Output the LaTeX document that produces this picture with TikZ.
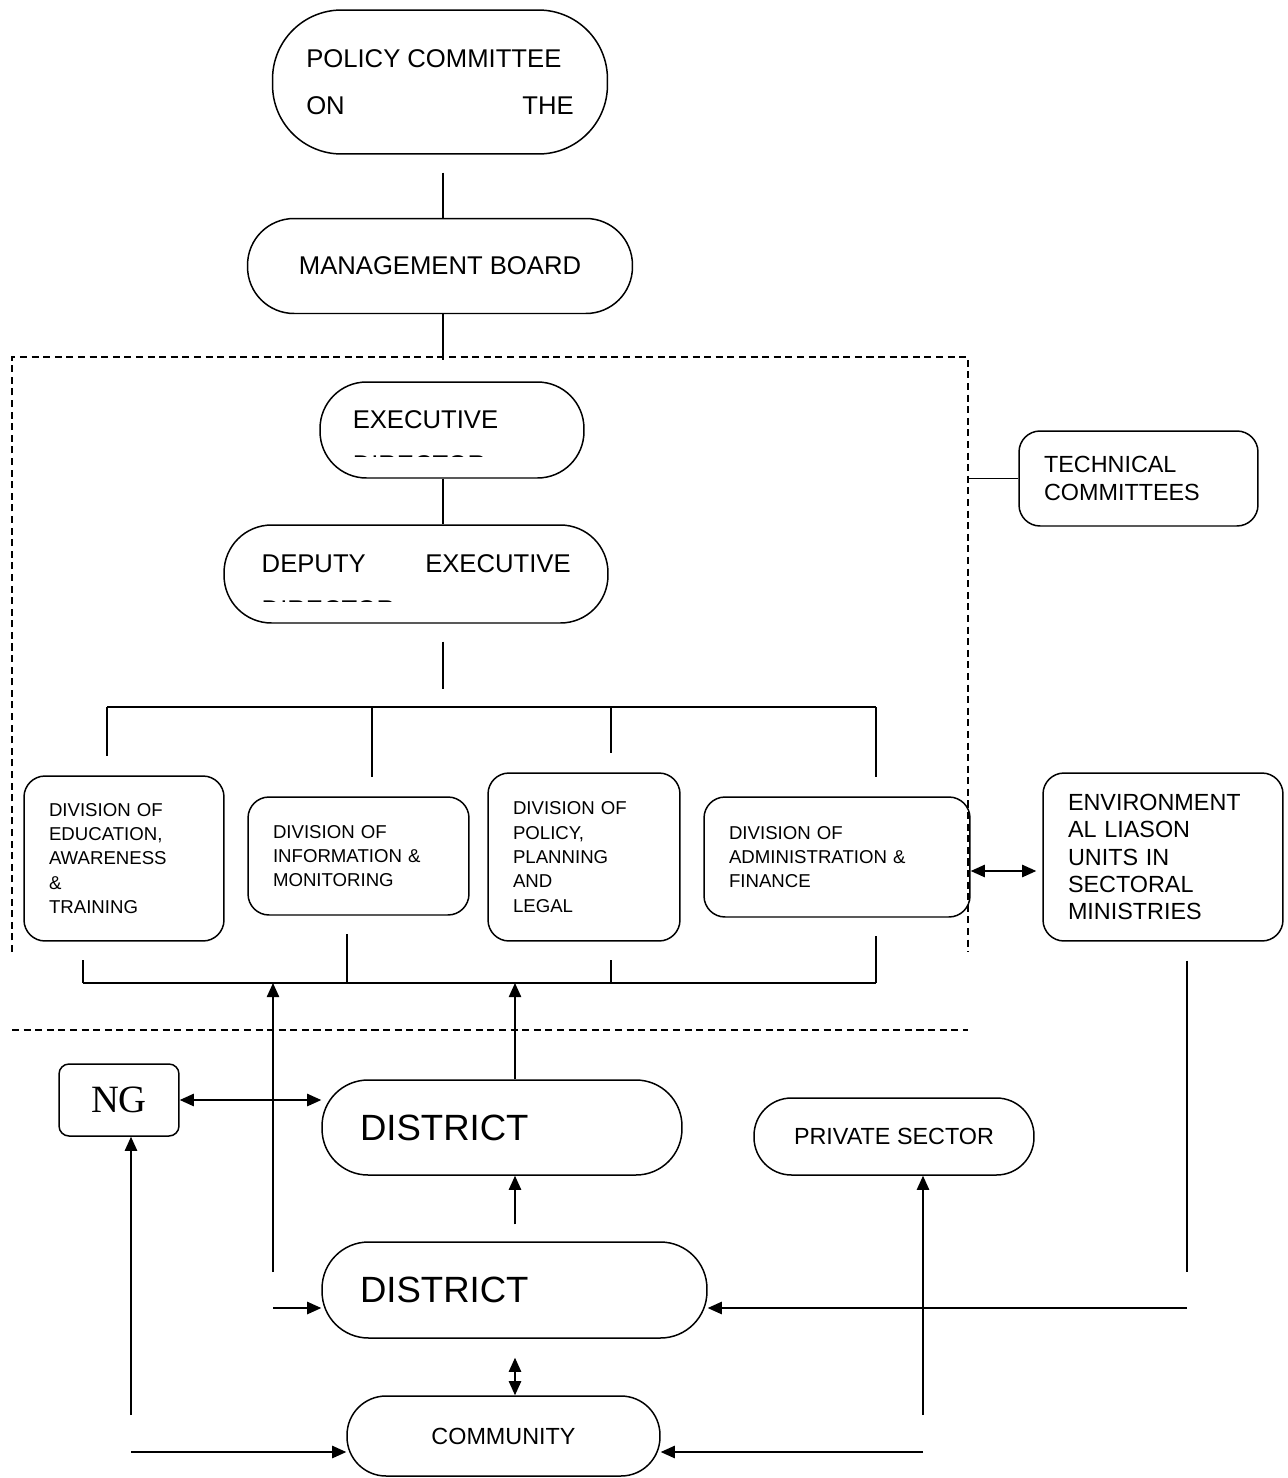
\documentclass[tikz,border=0pt]{standalone}
\usepackage{fontspec}
\setmainfont{Liberation Sans}
\newfontfamily\ngfont{Liberation Serif}
\usetikzlibrary{arrows.meta}

\begin{document}
\begin{tikzpicture}[
  x=0.02cm, y=-0.02cm,
  line width=0.85pt,
  oval/.style={draw, rounded corners=#1, inner sep=0pt},
  oval/.default=0.93cm,
  unitbox/.style={draw, rounded corners=0.42cm, align=left, inner xsep=0.5cm,
                  inner ysep=0pt, text width=#1},
  bigtxt/.style={font=\fontsize{14.6}{26.6}\selectfont},
  smalltxt/.style={font=\fontsize{10.6}{13.9}\selectfont},
  midtxt/.style={font=\fontsize{13.3}{15.6}\selectfont},
  disttxt/.style={font=\fontsize{20.8}{24}\selectfont},
  arr/.style={-{Triangle[length=8pt,width=7pt]}},
  darr/.style={{Triangle[length=8pt,width=7pt]}-{Triangle[length=8pt,width=7pt]}},
  zone/.style={line width=0.6pt, dash pattern=on 4pt off 2.6pt}
]
\useasboundingbox (0,0) rectangle (1288,1478);
\coordinate (spine) at (443,0);
\coordinate (zoneR) at (968,357);

\node[oval=1.38cm, bigtxt, align=left, minimum width=6.7cm, minimum height=2.88cm] (policy) at (440,82)
  {POLICY COMMITTEE\\\makebox[5.35cm]{ON\hfill THE}};
\node[oval, bigtxt, minimum width=7.7cm, minimum height=1.9cm] (mgmt) at (440,266) {MANAGEMENT BOARD};

\node[oval, minimum width=5.28cm, minimum height=1.92cm] (exec) at (452,430) {};
\node[bigtxt, anchor=base west, inner sep=0pt] (execT) at (352,428) {EXECUTIVE};
\begin{scope}
  \clip (340,454.2) rectangle (560,456.6);
  \node[bigtxt, anchor=base west, inner sep=0pt] (execCut) at (352,473) {DIRECTOR};
\end{scope}

\node[oval=0.95cm, minimum width=7.68cm, minimum height=1.96cm] (deputy) at (416,574) {};
\node[bigtxt, anchor=base west, inner sep=0pt] (deputyT) at (261,572) {\makebox[6.18cm]{DEPUTY\hfill EXECUTIVE}};
\begin{scope}
  \clip (250,599.2) rectangle (450,601.6);
  \node[bigtxt, anchor=base west, inner sep=0pt] (deputyCut) at (261,618) {DIRECTOR};
\end{scope}

\node[unitbox=3.0cm, smalltxt, minimum height=3.3cm] (div1) at (124,858.5)
  {DIVISION OF\\EDUCATION,\\AWARENESS\\\&\\TRAINING};
\node[unitbox=3.42cm, smalltxt, minimum height=2.36cm] (div2) at (358.5,856)
  {DIVISION OF\\INFORMATION \&\\MONITORING};
\node[unitbox=2.84cm, smalltxt, minimum height=3.36cm] (div3) at (584,857)
  {DIVISION OF\\POLICY,\\PLANNING\\AND\\LEGAL};
\node[unitbox=4.32cm, smalltxt, minimum height=2.4cm] (div4) at (837,857)
  {DIVISION OF\\ADMINISTRATION \&\\FINANCE};
\node[unitbox=3.78cm, midtxt, minimum height=1.9cm] (tech) at (1138.5,478.5)
  {TECHNICAL\\COMMITTEES};
\node[unitbox=3.8cm, midtxt, minimum height=3.36cm] (env) at (1163,857)
  {ENVIRONMENT\\AL LIASON\\UNITS IN\\SECTORAL\\MINISTRIES};

\node[draw, rounded corners=0.2cm, minimum width=2.4cm, minimum height=1.44cm,
      font=\ngfont\fontsize{22}{26}\selectfont] (ng) at (119,1100) {NG};
\node[oval=0.92cm, disttxt, align=left, inner xsep=0.76cm, text width=5.68cm, minimum height=1.9cm] (dist1) at (502,1127.5) {DISTRICT};
\node[oval, disttxt, align=left, inner xsep=0.76cm, text width=6.18cm, minimum height=1.92cm] (dist2) at (514.5,1290) {DISTRICT};
\node[oval=0.75cm, midtxt, minimum width=5.6cm, minimum height=1.54cm] (priv) at (894,1136.5) {PRIVATE SECTOR};
\node[oval=0.78cm, midtxt, minimum width=6.26cm, minimum height=1.6cm] (comm) at (503.5,1436) {COMMUNITY};

\draw[zone] (12,952) -- (12,357) -- (968,357) -- (968,952);
\draw[zone] (12,1030) -- (968,1030);

\draw ([yshift=-0.36cm]policy.south -| spine) -- (mgmt.north -| spine);
\draw (mgmt.south -| spine) -- ([yshift=-0.92cm]mgmt.south -| spine);
\draw (exec.south -| spine) -- (deputy.north -| spine);
\draw ([yshift=-0.36cm]deputy.south -| spine) -- ([yshift=-1.3cm]deputy.south -| spine);
\draw (tech.west) -- (tech.west -| zoneR);

\coordinate (t1) at (107,707);
\coordinate (t2) at (372,707);
\coordinate (t3) at (611,707);
\coordinate (t4) at (876,707);
\draw (t1) -- (t4);
\foreach \t/\d in {t1/div1, t2/div2, t3/div3, t4/div4}
  \draw (\t) -- ([yshift=0.38cm]\t |- \d.north);

\coordinate (b1) at (83,983);
\coordinate (b2) at (347,983);
\coordinate (b3) at (611,983);
\coordinate (b4) at (876,983);
\draw (b1) -- (b4);
\foreach \b/\d in {b1/div1, b2/div2, b3/div3, b4/div4}
  \draw (\b) -- ([yshift=-0.36cm]\b |- \d.south);

\draw[darr, shorten >=0.12cm] ([yshift=-0.28cm]div4.east) -- ([yshift=-0.28cm]div4.east -| env.west);

\coordinate (feedL) at (273,1272);
\coordinate (up) at (515,983);
\coordinate (inL) at (273,1308);
\coordinate (envL) at (1187,1272);
\coordinate (inR) at (1187,1308);
\coordinate (psUp) at (923,1415);
\coordinate (cR) at (923,1452);
\coordinate (ngUp) at (131,1415);
\coordinate (cL) at (131,1452);

\draw[arr] (feedL) -- (feedL |- b1);
\draw[arr] (up |- dist1.north) -- (up);
\draw[darr] (ng.east) -- (ng.east -| dist1.west);
\draw[arr] ([yshift=0.34cm]up |- dist2.north) -- (up |- dist1.south);
\draw[arr] (inL) -- (inL -| dist2.west);
\draw ([yshift=-0.38cm]envL |- env.south) -- (envL);
\draw[arr] (inR) -- (inR -| dist2.east);
\draw[arr] (psUp) -- (psUp |- priv.south);
\draw[arr] (cR) -- (cR -| comm.east);
\draw[arr] (ngUp) -- (ngUp |- ng.south);
\draw[arr] (cL) -- (cL -| comm.west);
\draw[darr] ([yshift=-0.38cm]up |- dist2.south) -- (up |- comm.north);
\end{tikzpicture}
\end{document}
